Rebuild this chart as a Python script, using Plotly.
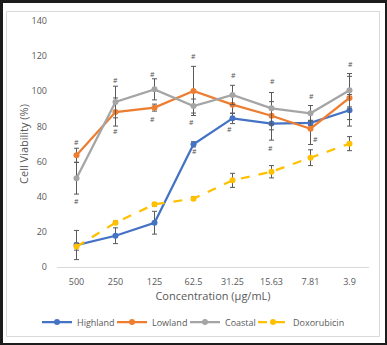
import plotly.graph_objects as go

categories = ["500", "250", "125", "62.5", "31.25", "15.63", "7.81", "3.9"]

highland = [12.5, 17.8, 25.2, 69.8, 84.6, 81.6, 82.0, 89.2]
highland_err = [8.3, 4.5, 6.5, 1.5, 3.0, 9.4, 1.5, 9.0]

lowland = [63.6, 88.2, 90.7, 100.2, 92.4, 86.1, 78.7, 96.2]
lowland_err = [4.0, 8.0, 2.0, 14.0, 5.0, 8.0, 9.0, 12.3]

coastal = [50.5, 93.9, 101.1, 91.6, 97.9, 90.3, 87.5, 100.6]
coastal_err = [9.0, 9.0, 6.0, 4.0, 5.5, 9.0, 4.4, 9.5]

doxorubicin = [11.6, 25.2, 35.7, 38.9, 49.3, 54.2, 62.2, 70.2]
doxorubicin_err = [2.0, 1.0, 1.0, 1.0, 4.0, 3.5, 4.5, 4.0]

hash_x = ["500", "500", "250", "250", "125", "125", "62.5", "62.5", "62.5",
          "31.25", "31.25", "15.63", "15.63", "7.81", "7.81", "3.9"]
hash_y = [71.1, 37.3, 105.9, 77.4, 109.8, 83.7, 119.7, 82.1, 65.6,
          108.9, 78.0, 105.5, 67.6, 96.9, 72.3, 115.5]
hash_shift = [0, 0, 0, 0, -2, -2, 0, -2, 1, 1, -3, 1, -1, 1, 5, 1]

y_ticks = [0, 20, 40, 60, 80, 100, 120, 140]

FONT = "Open Sans"
TXT = "#595959"

W, H = 387, 345
L, R, T, B = 57, 18, 21, 78
PW, PH = W - L - R, H - T - B

series = [
    ("Highland", highland, highland_err, "#4472C4", "solid", "legend", 37),
    ("Lowland", lowland, lowland_err, "#ED7D31", "solid", "legend2", 112),
    ("Coastal", coastal, coastal_err, "#A5A5A5", "solid", "legend3", 185),
    ("Doxorubicin", doxorubicin, doxorubicin_err, "#FFC000", "dash", "legend4", 253),
]

fig = go.Figure()
for name, vals, errs, color, dash, leg, _ in series:
    fig.add_trace(go.Scatter(
        x=categories, y=vals, name=name, mode="lines+markers",
        line=dict(color=color, width=2.25, dash=dash),
        marker=dict(color=color, size=6, symbol="circle"),
        error_y=dict(type="data", array=errs, visible=True,
                     color="#595959", thickness=1, width=2.5),
        cliponaxis=False, legend=leg,
    ))


def px_x(p):
    return (p - L) / PW


def px_y(p):
    return (H - B - p) / PH


shapes = [
    dict(type="rect", xref="paper", yref="paper", layer="below",
         x0=px_x(3), x1=px_x(385), y0=px_y(343), y1=px_y(3),
         fillcolor="white", line=dict(width=0)),
    dict(type="rect", xref="paper", yref="paper", layer="below",
         x0=px_x(6.5), x1=px_x(379.5), y0=px_y(336.5), y1=px_y(11.5),
         fillcolor="rgba(0,0,0,0)", line=dict(color="#D9D9D9", width=1)),
]

annotations = []
for hx, hy, hs in zip(hash_x, hash_y, hash_shift):
    annotations.append(dict(
        x=categories.index(hx), y=hy, xref="x", yref="y", text="#",
        showarrow=False, xshift=hs,
        font=dict(family=FONT, size=7, color="#555555"),
    ))

legend_layout = {}
for name, vals, errs, color, dash, leg, lx in series:
    legend_layout[leg] = dict(
        orientation="h", xref="container", yref="container",
        x=lx / W, xanchor="left", y=1 - 322 / H, yanchor="middle",
        font=dict(family=FONT, size=9, color=TXT),
        itemwidth=30, bgcolor="rgba(0,0,0,0)", borderwidth=0,
    )

fig.update_layout(
    width=W, height=H,
    margin=dict(l=L, r=R, t=T, b=B, pad=0, autoexpand=False),
    paper_bgcolor="#1c1c1c",
    plot_bgcolor="rgba(0,0,0,0)",
    font=dict(family=FONT, color=TXT),
    shapes=shapes,
    annotations=annotations,
    showlegend=True,
    xaxis=dict(
        type="category", categoryorder="array", categoryarray=categories,
        range=[-0.5, 7.5], showgrid=False, zeroline=False,
        showline=True, linecolor="#D9D9D9", linewidth=1,
        ticks="", ticklabelstandoff=6,
        tickfont=dict(family=FONT, size=9, color=TXT),
        title=dict(text="Concentration (μg/mL)",
                   font=dict(family=FONT, size=11, color=TXT), standoff=5),
    ),
    yaxis=dict(
        range=[0, 140], tickvals=y_ticks, showgrid=False, zeroline=False,
        showline=False, ticks="", ticklabelstandoff=9,
        tickfont=dict(family=FONT, size=9, color=TXT),
        title=dict(text="Cell Viability (%)",
                   font=dict(family=FONT, size=11, color=TXT), standoff=0),
    ),
    **legend_layout,
)

fig.write_html("out.html")
